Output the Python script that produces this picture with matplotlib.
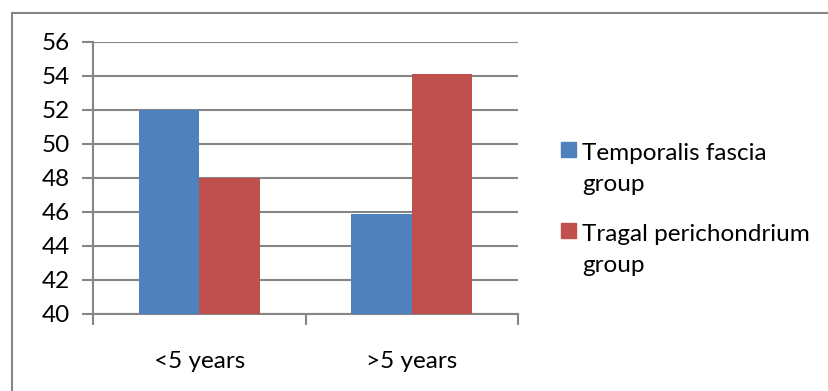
import matplotlib
matplotlib.use("Agg")
import matplotlib.pyplot as plt
from matplotlib.patches import Rectangle
import numpy as np

categories = ["<5 years", ">5 years"]
series_names = ["Temporalis fascia\ngroup", "Tragal perichondrium\ngroup"]
temporalis = [52.0, 45.9]
tragal = [48.0, 54.1]
yticks = [40, 42, 44, 46, 48, 50, 52, 54, 56]

colors = ["#4F81BD", "#C0504D"]
grid_col = "#868686"
font = ["Lato", "DejaVu Sans"]
plt.rcParams["font.family"] = font
fs = 17.5

W, H = 829, 391
fig = plt.figure(figsize=(W / 100, H / 100), dpi=100)

def fx(px):
    return px / W

def fy(py):
    return 1 - py / H

ax = fig.add_axes([fx(93.3), fy(313.7), fx(518) - fx(93.3), fy(42) - fy(313.7)])

x = np.arange(len(categories))
bw = 0.285
ax.bar(x - bw / 2, temporalis, bw, color=colors[0], zorder=3, linewidth=0)
ax.bar(x + bw / 2, tragal, bw, color=colors[1], zorder=3, linewidth=0)

ax.set_ylim(40, 56)
ax.set_xlim(-0.5, len(categories) - 0.5)
ax.set_yticks(yticks)
ax.set_yticklabels([str(v) for v in yticks], fontsize=fs)
ax.yaxis.grid(True, color=grid_col, linewidth=1.5, zorder=0)
ax.set_axisbelow(True)

# category boundary ticks on x axis, labels at category centres
ax.set_xticks(np.arange(-0.5, len(categories), 1.0))
ax.set_xticklabels([])
ax.set_xticks(x, minor=True)
ax.set_xticklabels(categories, minor=True, fontsize=fs)
ax.tick_params(axis="x", which="minor", length=0, pad=27)
ax.tick_params(axis="x", which="major", length=8, width=1.5, color=grid_col)
ax.tick_params(axis="y", length=8, width=1.5, color=grid_col, pad=9)

for s in ["top", "right"]:
    ax.spines[s].set_visible(False)
for s in ["left", "bottom"]:
    ax.spines[s].set_color(grid_col)
    ax.spines[s].set_linewidth(1.5)

# chart frame
fig.patches.append(Rectangle((fx(12), fy(420)), fx(900) - fx(12), fy(13) - fy(420),
                             transform=fig.transFigure, fill=False,
                             edgecolor=grid_col, linewidth=1.5, clip_on=False))

# legend: colour key plus two wrapped text lines per series
entries_top = [142, 223]
for name, col, top in zip(series_names, colors, entries_top):
    fig.patches.append(Rectangle((fx(561), fy(top + 15)), fx(15), fy(top) - fy(top + 15),
                                 transform=fig.transFigure, color=col))
    for i, line in enumerate(name.split("\n")):
        fig.text(fx(582), fy(top + 18 + 31 * i), line, fontsize=fs,
                 va="baseline", ha="left", transform=fig.transFigure)

fig.savefig("out.png", dpi=100)
